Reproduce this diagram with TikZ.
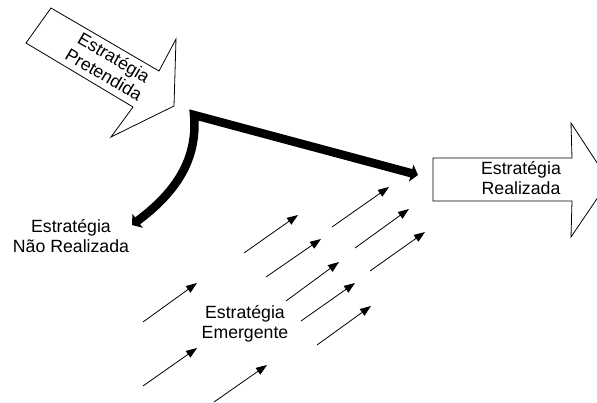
\documentclass[tikz,border=0pt]{standalone}
\usepackage{fontspec}
\setmainfont{Liberation Sans}
\usetikzlibrary{arrows.meta}
\tikzset{
  bigarrow/.style={draw=black, line width=0.8pt, fill=white, line join=miter},
  label/.style={align=center, inner sep=0pt, font=\fontsize{17.7}{20}\selectfont},
  thickline/.style={line width=8.5pt, line join=miter, {Triangle[length=7pt,width=17pt]}-{Triangle[length=7pt,width=17pt]}},
  thinarrow/.style={line width=0.8pt, -{Triangle[length=11pt,width=8pt]}}
}
\begin{document}
\begin{tikzpicture}[x=1pt,y=-1pt]
\useasboundingbox (0,0) rectangle (597,403);
\clip (0,0) rectangle (597,403);
% Estrategia Pretendida arrow
\draw[bigarrow] (51,8) -- (159,71) -- (176,39) -- (174,106) -- (111,137) -- (133,107) -- (26,43) -- cycle;
\node[label, rotate=-30.5] (pret) at (109,66) {Estratégia\\Pretendida};
% Estrategia Realizada arrow
\draw[bigarrow] (433,158) -- (572,158) -- (571,123) -- (609,181) -- (571,237) -- (572,201) -- (433,201) -- cycle;
\node[label] (real) at (521,178) {Estratégia\\Realizada};
% labels
\node[label] (nreal) at (71,236.5) {Estratégia\\Não Realizada};
\node[label] (emer) at (245,323.4) {Estratégia\\Emergente};
% thick bent arrow
\coordinate (corner) at (194,115);
\coordinate (nrtip) at (132,225);
\coordinate (retip) at (418,175);
\draw[thickline] (nrtip) .. controls (175,193) and (198,160) .. (corner) -- (retip);
% emergent arrows
\foreach \i/\a/\b/\c/\d in {1/244/253/298/215, 2/332/227/389/187, 3/266/277/321/239, 4/355/248/409/209, 5/286/301/339/262, 6/370/271/425/232, 7/143/322/197/283, 8/301/321/355/283, 9/317/345/371/306, 10/143/386/197/348, 11/214/402/267/365}{
  \coordinate (s\i) at (\a,\b);
  \coordinate (e\i) at (\c,\d);
  \draw[thinarrow] (s\i) -- (e\i);
}
\end{tikzpicture}
\end{document}
